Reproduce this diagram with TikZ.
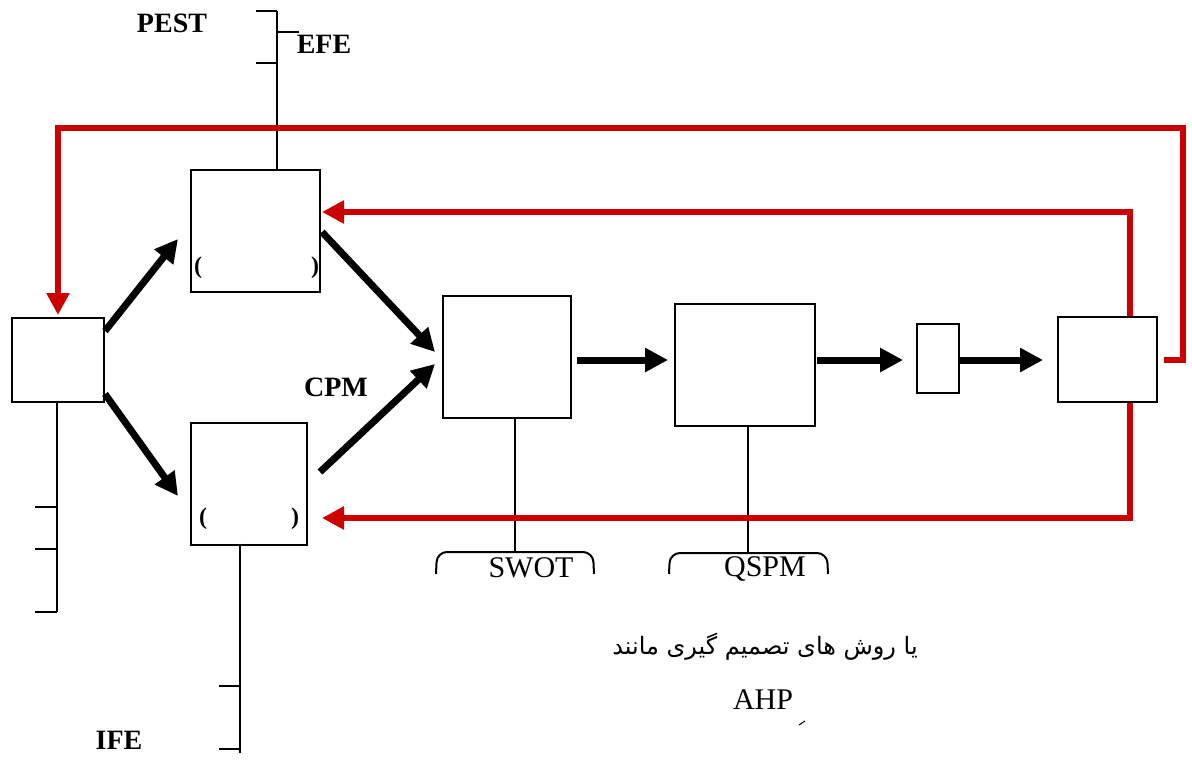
\documentclass[tikz,border=0pt]{standalone}
\usepackage{fontspec}
\setmainfont{Liberation Serif}
\newfontfamily\arabicfont[Script=Arabic]{DejaVu Sans}
\TeXXeTstate=1
\usetikzlibrary{arrows.meta,calc}
\definecolor{fbred}{HTML}{CC0000}
\tikzset{
  box/.style={draw=black,line width=2pt,fill=white,inner sep=0pt,rectangle},
  flow/.style={line width=7pt,-{Triangle[length=23pt,width=23pt]}},
  feedback/.style={draw=fbred,line width=6.5pt,-{Triangle[length=22pt,width=22pt]},fbred},
  thin/.style={line width=2pt},
  boldlabel/.style={font=\fontsize{28}{30}\selectfont\bfseries,inner sep=0pt},
  plainlabel/.style={font=\fontsize{30}{32}\selectfont,inner sep=0pt},
  paren/.style={font=\fontsize{24}{26}\selectfont\bfseries,inner sep=0pt},
}
\begin{document}
\begin{tikzpicture}[x=1pt,y=-1pt]
\useasboundingbox[fill=white] (0,0) rectangle (1192,764);

% boxes
\node[box,minimum width=92pt,minimum height=84pt] (L) at (58,360) {};
\node[box,minimum width=129pt,minimum height=122pt] (T) at (255.5,231) {};
\node[box,minimum width=116pt,minimum height=122pt] (B) at (249,483.5) {};
\node[box,minimum width=128pt,minimum height=122pt] (S) at (507,357) {};
\node[box,minimum width=140pt,minimum height=122pt] (Q) at (745,365) {};
\node[box,minimum width=42pt,minimum height=69pt] (M) at (938,358.5) {};
\node[box,minimum width=99pt,minimum height=85pt] (F) at (1107.5,359.5) {};

% parentheses
\node[paren] (tpl) at (198,268) {(};
\node[paren] (tpr) at (315,268) {)};
\node[paren] (bpl) at (203,519) {(};
\node[paren] (bpr) at (295,519) {)};

% labels
\node[boldlabel] (pest) at (172,23) {PEST};
\node[boldlabel] (efe) at (324,44) {EFE};
\node[boldlabel] (cpm) at (336,387) {CPM};
\node[boldlabel] (ife) at (119,740) {IFE};
\node[plainlabel] (swot) at (531,568) {SWOT};
\node[plainlabel] (qspm) at (765,569) {QSPM};
\node[plainlabel] (ahp) at (763,700) {AHP};
\node[inner sep=0pt,font=\fontsize{24}{27}\selectfont\arabicfont] (fa) at (765,647) {\beginR یا روش های تصمیم گیری مانند\endR};

% thin bracket lines
\coordinate (efetop) at (277,11);
\draw[thin] ($(T.north)+(21.5,0)$) -- (efetop);
\draw[thin] (256,11) -- (efetop);
\draw[thin] (277,32) -- (299,32);
\draw[thin] (256,63) -- (277,63);

\coordinate (lbot) at (57,612);
\draw[thin] ($(L.south)+(-1,0)$) -- (lbot);
\draw[thin] (35,507) -- (57,507);
\draw[thin] (35,549) -- (57,549);
\draw[thin] (35,612) -- (lbot);

\coordinate (bbot) at (240,753);
\draw[thin] ($(B.south)+(-9,-2)$) -- (bbot);
\draw[thin] (219,686) -- (240,686);
\draw[thin] (219,749) -- (240,749);

\coordinate (sb) at (515,552);
\draw[thin] ($(S.south)+(8,0)$) -- (sb);
\draw[thin,rounded corners=10pt] (436,574) -- (437,552) -- (593,552) -- (594,574);
\coordinate (qb) at (748,553);
\draw[thin] ($(Q.south)+(3,0)$) -- (qb);
\draw[thin,rounded corners=10pt] (669,574) -- (670,553) -- (827,553) -- (828,574);

% stray mark below AHP
\draw[line width=1pt] (799,725) -- (805,721);

% black flow arrows
\draw[flow] ($(L.north east)+(0,14)$) -- ($(T.west)+(-12,8)$);
\draw[flow] ($(L.south east)+(0,-9)$) -- ($(B.west)+(-12,12.5)$);
\draw[flow] ($(T.east)+(1,1)$) -- ($(S.west)+(-7,-5)$);
\draw[flow] ($(B.east)+(12,-11.5)$) -- ($(S.west)+(-7,7)$);
\draw[flow] ($(S.east)+(5,3)$) -- ($(Q.west)+(-6,-5)$);
\draw[flow] ($(Q.east)+(1,-5)$) -- ($(M.west)+(-13,1.5)$);
\draw[flow] ($(M.east)+(0,1.5)$) -- ($(F.west)+(-14,0.5)$);

% red feedback loops
\draw[feedback] ($(F.east)+(6,0.5)$) -- (1183,360) -- (1183,128) -- (58,128) -- ($(L.north)+(0,-2)$);
\draw[feedback] ($(F.north)+(22.5,0)$) -- (1130,212) -- ($(T.east)+(1,-19)$);
\draw[feedback] ($(F.south)+(22.5,0)$) -- (1130,518) -- ($(B.east)+(14,34.5)$);
\end{tikzpicture}
\end{document}
